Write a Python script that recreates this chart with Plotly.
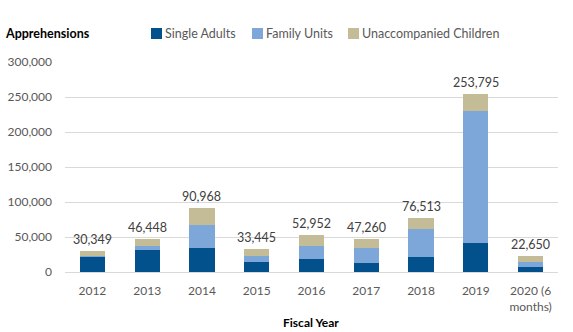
import plotly.graph_objects as go

# Fiscal years on the x axis
years = ["2012", "2013", "2014", "2015", "2016", "2017", "2018", "2019", "2020 (6<br>months)"]

# Apprehensions by group
single_adults = [22500, 32100, 33800, 14200, 18500, 13200, 21400, 41000, 7000]
family_units = [400, 4500, 33800, 8900, 19300, 21400, 40200, 189000, 7400]
unaccompanied_children = [7449, 9848, 23368, 10345, 15152, 12660, 14913, 23795, 8250]

totals = [a + b + c for a, b, c in zip(single_adults, family_units, unaccompanied_children)]

y_ticks = [0, 50000, 100000, 150000, 200000, 250000, 300000]

series_names = ["Single Adults", "Family Units", "Unaccompanied Children"]
series_colors = ["#03518C", "#7DA7D9", "#C4BC96"]

FONT = "Lato"
GREY = "#595959"
W, H = 573, 332
ML, MR, MT, MB = 65, 15, 62, 60
PW, PH = W - ML - MR, H - MT - MB


def px_x(px):
    return (px - ML) / PW


def px_y(py):
    return (H - MB - py) / PH


fig = go.Figure()
for name, vals, col in zip(series_names, [single_adults, family_units, unaccompanied_children],
                           series_colors):
    fig.add_trace(go.Bar(name=name, x=years, y=vals, marker_color=col,
                         marker_line_width=0, showlegend=False))

# Total labels above each stack (x given as the category index)
annotations = [dict(x=i, y=tot, text=f"{tot:,}", xref="x", yref="y", showarrow=False,
                    yanchor="bottom", yshift=2,
                    font=dict(family=FONT, size=12.5, color="#404040"))
               for i, tot in enumerate(totals)]

# Legend row: coloured squares followed by their labels
shapes = []
legend_left = [151, 252, 348]
for name, col, x0 in zip(series_names, series_colors, legend_left):
    shapes.append(dict(type="rect", xref="paper", yref="paper",
                       x0=px_x(x0), x1=px_x(x0 + 11), y0=px_y(39), y1=px_y(28),
                       fillcolor=col, line_width=0))
    annotations.append(dict(text=name, xref="paper", yref="paper", x=px_x(x0 + 12),
                            y=px_y(33.5), xanchor="left", yanchor="middle", showarrow=False,
                            font=dict(family=FONT, size=12.5, color=GREY)))

annotations.append(dict(text="<b>Apprehensions</b>", xref="paper", yref="paper", x=px_x(3),
                        y=px_y(33.5), xanchor="left", yanchor="middle", showarrow=False,
                        font=dict(family=FONT, size=12.5, color="black")))
annotations.append(dict(text="<b>Fiscal Year</b>", xref="paper", yref="paper", x=px_x(311),
                        y=px_y(322), xanchor="center", yanchor="middle", showarrow=False,
                        font=dict(family=FONT, size=12, color="black")))

fig.update_layout(
    barmode="stack",
    bargap=0.54,
    width=W, height=H,
    margin=dict(l=ML, r=MR, t=MT, b=MB, autoexpand=False),
    paper_bgcolor="white", plot_bgcolor="white",
    font=dict(family=FONT, size=12, color=GREY),
    showlegend=False,
    shapes=shapes,
    annotations=annotations,
    xaxis=dict(type="category", categoryorder="array", categoryarray=years,
               showline=True, linecolor="#D9D9D9", linewidth=1, ticks="",
               automargin=False, ticklabelstandoff=8,
               tickfont=dict(family=FONT, size=12, color=GREY)),
    yaxis=dict(range=[0, 300000], tickvals=y_ticks, tickformat=",d",
               showgrid=True, gridcolor="#D9D9D9", gridwidth=1, zeroline=False,
               showline=False, ticks="", ticklabelstandoff=12, automargin=False,
               tickfont=dict(family=FONT, size=12, color=GREY)),
)

fig.write_html("out.html")
